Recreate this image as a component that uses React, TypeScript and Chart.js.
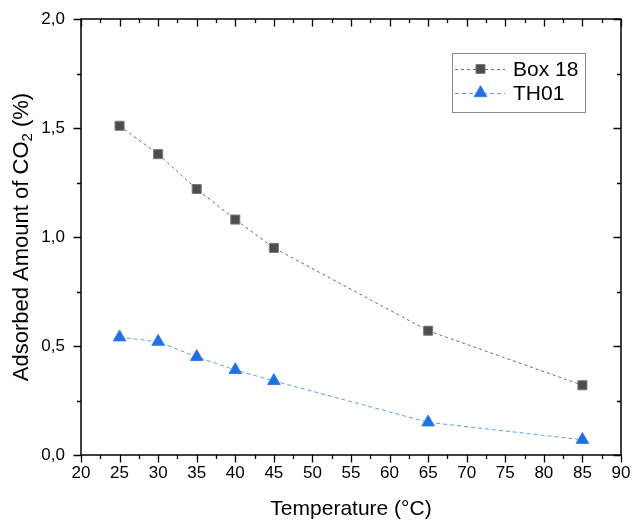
import React, { useEffect, useRef } from "react";
import { Chart, registerables } from "chart.js";

Chart.register(...registerables);

const temperatures = [25, 30, 35, 40, 45, 65, 85];
const box18 = [1.51, 1.38, 1.22, 1.08, 0.95, 0.57, 0.32];
const th01 = [0.54, 0.52, 0.45, 0.39, 0.34, 0.15, 0.07];
const seriesNames = ["Box 18", "TH01"];
const xTitle = "Temperature (°C)";
const yTitleParts = ["Adsorbed Amount of CO", "2", " (%)"];

const FONT = "'Liberation Sans', Arial, sans-serif";

const frameTicks = {
  id: "frameTicks",
  afterDatasetsDraw(chart: any) {
    const { ctx, chartArea: a, scales } = chart;
    const x = scales.x;
    const y = scales.y;
    ctx.save();
    ctx.strokeStyle = "#000";
    ctx.lineWidth = 1.5;
    ctx.strokeRect(a.left, a.top, a.right - a.left, a.bottom - a.top);
    ctx.lineWidth = 1.3;
    ctx.beginPath();
    for (let v = x.min; v <= x.max + 1e-9; v += 2.5) {
      const major = Math.abs(v / 5 - Math.round(v / 5)) < 1e-6;
      const len = major ? 7.5 : 4;
      const px = Math.round(x.getPixelForValue(v)) + 0.5;
      ctx.moveTo(px, a.bottom);
      ctx.lineTo(px, a.bottom + len);
      ctx.moveTo(px, a.top);
      ctx.lineTo(px, a.top + len);
    }
    for (let v = y.min; v <= y.max + 1e-9; v += 0.25) {
      const major = Math.abs(v / 0.5 - Math.round(v / 0.5)) < 1e-6;
      const len = major ? 7.5 : 4;
      const py = Math.round(y.getPixelForValue(v)) + 0.5;
      ctx.moveTo(a.left, py);
      ctx.lineTo(a.left - len, py);
      ctx.moveTo(a.right, py);
      ctx.lineTo(a.right - len, py);
    }
    ctx.stroke();
    ctx.restore();
  },
  afterDraw(chart: any) {
    const { ctx, chartArea: a } = chart;
    ctx.save();
    // y-axis title with subscript
    const big = `22px ${FONT}`;
    const small = `15px ${FONT}`;
    ctx.font = big;
    const w1 = ctx.measureText(yTitleParts[0]).width;
    const w3 = ctx.measureText(yTitleParts[2]).width;
    ctx.font = small;
    const w2 = ctx.measureText(yTitleParts[1]).width;
    const total = w1 + w2 + w3;
    ctx.translate(20, (a.top + a.bottom) / 2);
    ctx.rotate(-Math.PI / 2);
    ctx.fillStyle = "#000";
    ctx.textBaseline = "alphabetic";
    ctx.textAlign = "left";
    let cx = -total / 2;
    const base = 8;
    ctx.font = big;
    ctx.fillText(yTitleParts[0], cx, base);
    cx += w1;
    ctx.font = small;
    ctx.fillText(yTitleParts[1], cx, base + 4);
    cx += w2;
    ctx.font = big;
    ctx.fillText(yTitleParts[2], cx, base);
    ctx.restore();

    ctx.save();
    // legend box
    const bx = 452, by = 53, bw = 133, bh = 59;
    ctx.fillStyle = "#fff";
    ctx.fillRect(bx, by, bw, bh);
    ctx.strokeStyle = "#8a8a8a";
    ctx.lineWidth = 1;
    ctx.strokeRect(bx + 0.5, by + 0.5, bw, bh);
    const rows = [69, 93];
    const dsets = chart.data.datasets;
    rows.forEach((ry, i) => {
      const ds = dsets[i];
      ctx.strokeStyle = ds.borderColor;
      ctx.lineWidth = 1;
      ctx.setLineDash(ds.borderDash);
      ctx.beginPath();
      ctx.moveTo(455, ry + 0.5);
      ctx.lineTo(505, ry + 0.5);
      ctx.stroke();
      ctx.setLineDash([]);
      ctx.fillStyle = ds.pointBackgroundColor;
      ctx.strokeStyle = ds.pointBorderColor;
      ctx.beginPath();
      if (i === 0) {
        ctx.rect(476, ry - 4.5, 9, 9);
      } else {
        const r = 7.3;
        ctx.moveTo(480.5, ry - r);
        ctx.lineTo(480.5 + r * Math.sin(Math.PI / 3), ry + r / 2);
        ctx.lineTo(480.5 - r * Math.sin(Math.PI / 3), ry + r / 2);
        ctx.closePath();
      }
      ctx.fill();
      ctx.stroke();
      ctx.fillStyle = "#000";
      ctx.font = `21px ${FONT}`;
      ctx.textBaseline = "middle";
      ctx.textAlign = "left";
      ctx.fillText(ds.label, 513, ry + 1);
    });
    ctx.restore();
  },
};

export default function App() {
  const ref = useRef<HTMLCanvasElement>(null);
  useEffect(() => {
    document.body.style.margin = "0";
    const canvas = ref.current!;
    const chart = new Chart(canvas, {
      type: "line",
      data: {
        datasets: [
          {
            label: seriesNames[0],
            data: temperatures.map((t, i) => ({ x: t, y: box18[i] })),
            borderColor: "#6b6b6b",
            borderWidth: 1,
            borderDash: [3, 3],
            pointStyle: "rect",
            pointRadius: 6.4,
            pointHoverRadius: 6.4,
            pointBackgroundColor: "#4d4d4d",
            pointBorderColor: "#7a7a7a",
            pointBorderWidth: 1,
            tension: 0,
          },
          {
            label: seriesNames[1],
            data: temperatures.map((t, i) => ({ x: t, y: th01[i] })),
            borderColor: "#5d9cf2",
            borderWidth: 1,
            borderDash: [4, 3],
            pointStyle: "triangle",
            pointRadius: 7.3,
            pointHoverRadius: 7.3,
            pointBackgroundColor: "#1f6fdf",
            pointBorderColor: "#3a80e4",
            pointBorderWidth: 1,
            tension: 0,
          },
        ],
      },
      options: {
        responsive: false,
        animation: false,
        devicePixelRatio: 1,
        layout: { padding: { top: 19, right: 12, bottom: 0, left: 0 } },
        plugins: { legend: { display: false }, tooltip: { enabled: false } },
        scales: {
          x: {
            type: "linear",
            min: 20,
            max: 90,
            grid: { display: false, drawTicks: false },
            border: { display: false },
            ticks: {
              stepSize: 5,
              padding: 8,
              color: "#000",
              maxRotation: 0,
              autoSkip: false,
              font: { family: FONT, size: 17 },
            },
            title: {
              display: true,
              text: xTitle,
              color: "#000",
              font: { family: FONT, size: 21 },
              padding: { top: 0, bottom: 0 },
            },
            afterFit: (s: any) => {
              s.height = 67;
              s.paddingLeft = 0;
              s.paddingRight = 0;
            },
          },
          y: {
            type: "linear",
            min: 0,
            max: 2,
            grid: { display: false, drawTicks: false },
            border: { display: false },
            ticks: {
              stepSize: 0.5,
              padding: 16,
              color: "#000",
              font: { family: FONT, size: 17 },
              callback: (v: any) => Number(v).toFixed(1).replace(".", ","),
            },
            title: { display: false },
            afterFit: (s: any) => {
              s.width = 81;
              s.paddingTop = 0;
              s.paddingBottom = 0;
            },
          },
        },
      },
      plugins: [frameTicks],
    } as any);
    return () => chart.destroy();
  }, []);
  return (
    <div style={{ width: 633, height: 522 }}>
      <canvas ref={ref} width={633} height={522} style={{ display: "block" }} />
    </div>
  );
}
